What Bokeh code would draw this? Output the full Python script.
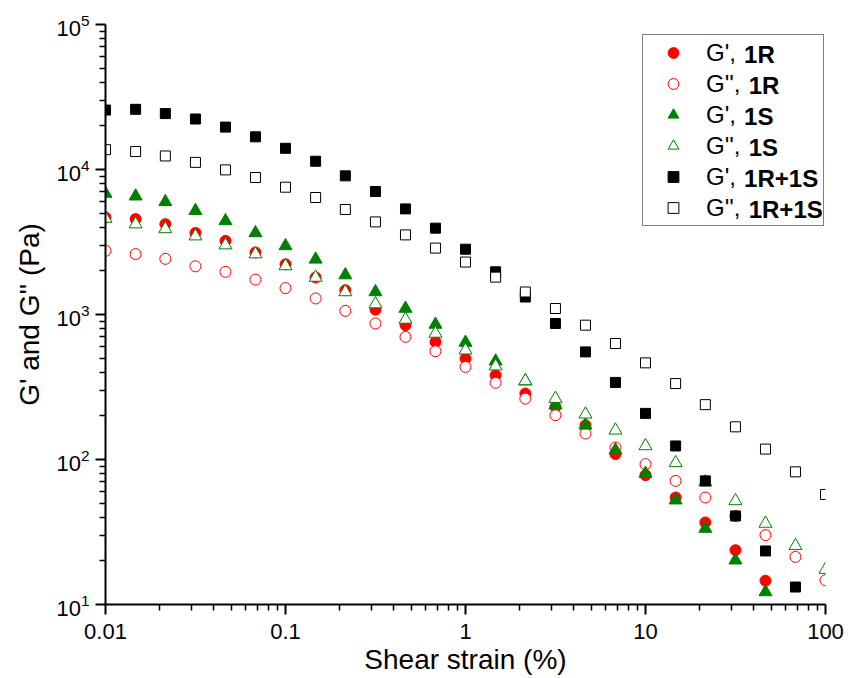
from bokeh.plotting import figure
from bokeh.models import (Range1d, Legend, LegendItem, Label, FixedTicker,
                          CustomJSTickFormatter)
from bokeh.embed import file_html
from bokeh.resources import INLINE

# ---- data ----
strain = [0.01, 0.0147, 0.0215, 0.0316, 0.0464, 0.0681, 0.1, 0.147, 0.215,
          0.316, 0.464, 0.681, 1.0, 1.47, 2.15, 3.16, 4.64, 6.81, 10.0, 14.7,
          21.5, 31.6, 46.4, 68.1, 100.0]

g1_1R = [4670, 4550, 4200, 3650, 3220, 2680, 2220, 1800, 1470, 1080, 844,
         647, 497, 381, 285, 231, 172, 109, 78, 54.7, 36.8, 23.7, 14.6]
g2_1R = [2750, 2610, 2420, 2150, 1970, 1740, 1520, 1290, 1060, 867, 701,
         558, 435, 338, 263, 202, 151, 121, 92.9, 71.2, 54.7, 40.8, 30.1,
         21.3, 14.7]
g1_1S = [6830, 6540, 5980, 5190, 4420, 3650, 2970, 2400, 1870, 1430, 1100,
         853, 641, 476, 347, 237, 172, 116, 80, 52.4, 33.4, 20.2, 12.2]
g2_1S = [4590, 4200, 3890, 3470, 3010, 2610, 2160, 1800, 1430, 1180, 924,
         740, 567, 440, 348, 263, 205, 159, 124, 94.8, 69.7, 51.8, 36.2,
         25.4, 17.4]
g1_RS = [25700, 26000, 24300, 22300, 19600, 16800, 14000, 11400, 9040,
         7050, 5350, 3940, 2820, 1970, 1320, 867, 552, 340, 208, 124, 71.2,
         40.8, 23.4, 13.2]
g2_RS = [13700, 13300, 12400, 11200, 9940, 8810, 7550, 6410, 5300, 4350,
         3540, 2870, 2300, 1810, 1430, 1100, 844, 631, 464, 334, 239, 168,
         118, 82.2, 57.4]

x_ticks = [0.01, 0.1, 1, 10, 100]
y_ticks = [10, 100, 1000, 10000, 100000]

legend_main = ["G',", "G'',", "G',", "G'',", "G',", "G'',"]
legend_bold = ["1R", "1R", "1S", "1S", "1R+1S", "1R+1S"]

FONT = "Liberation Sans"

p = figure(width=849, height=678, x_axis_type="log", y_axis_type="log",
           x_range=Range1d(0.01, 100), y_range=Range1d(10, 100000),
           output_backend="svg", toolbar_location=None,
           min_border_left=105, min_border_right=24, min_border_top=24,
           min_border_bottom=74)
p.outline_line_color = None
p.grid.visible = False
p.background_fill_color = "white"
p.border_fill_color = "white"

def minor(ticks):
    out = []
    for t in ticks[:-1]:
        out += [t * m for m in range(2, 10)]
    return out

p.xaxis.ticker = FixedTicker(ticks=x_ticks, minor_ticks=minor(x_ticks))
p.yaxis.ticker = FixedTicker(ticks=y_ticks, minor_ticks=minor(y_ticks))
p.xaxis.formatter = CustomJSTickFormatter(
    code="return String(parseFloat(tick.toPrecision(6)));")

for ax in (p.xaxis[0], p.yaxis[0]):
    ax.axis_line_width = 2
    ax.axis_line_color = "black"
    ax.major_tick_line_width = 2
    ax.minor_tick_line_width = 1.5
    ax.major_tick_out = 10
    ax.major_tick_in = 0
    ax.minor_tick_out = 6
    ax.minor_tick_in = 0
    ax.major_label_text_font = FONT
    ax.major_label_text_font_size = "22px"
    ax.major_label_text_color = "black"
    ax.axis_label_text_font = FONT
    ax.axis_label_text_font_size = "28px"
    ax.axis_label_text_font_style = "normal"
    ax.axis_label_text_color = "black"

p.xaxis.axis_label = "Shear strain (%)"
p.yaxis.axis_label = "G' and G'' (Pa)"
p.xaxis.major_label_standoff = 9
p.xaxis.axis_label_standoff = 2
p.yaxis.major_label_standoff = 6
p.yaxis.axis_label_standoff = 8

r1 = p.scatter(strain[:len(g1_1R)], g1_1R, marker="circle", size=11,
               fill_color="red", line_color="red")
r2 = p.scatter(strain[:len(g2_1R)], g2_1R, marker="circle", size=11,
               fill_color="white", line_color="red", line_width=1)
r3 = p.scatter(strain[:len(g1_1S)], g1_1S, marker="triangle", size=13,
               fill_color="green", line_color="green")
r4 = p.scatter(strain[:len(g2_1S)], g2_1S, marker="triangle", size=13,
               fill_color="white", line_color="green", line_width=1)
r5 = p.scatter(strain[:len(g1_RS)], g1_RS, marker="square", size=10,
               fill_color="black", line_color="black")
r6 = p.scatter(strain[:len(g2_RS)], g2_RS, marker="square", size=10,
               fill_color="white", line_color="black", line_width=1)
rends = [r1, r2, r3, r4, r5, r6]

PAD = 2
GW = 56
STAND = 5
ROWH = 31
LX = 537
LY = 378
legend = Legend(items=[LegendItem(label=t, renderers=[r])
                       for t, r in zip(legend_main, rends)],
                location=(LX, LY))
legend.padding = PAD
legend.spacing = 0
legend.margin = 0
legend.label_height = ROWH
legend.glyph_height = 27
legend.glyph_width = GW
legend.label_standoff = STAND
legend.label_width = 115
legend.label_text_font = FONT
legend.label_text_font_size = "24px"
legend.label_text_color = "black"
legend.border_line_color = "black"
legend.border_line_width = 1
legend.background_fill_alpha = 0
p.add_layout(legend)

# bold part of each legend entry
text_x = LX + PAD + GW + STAND
top_y = LY + 2 * PAD + 6 * ROWH - PAD
for i, (m, b) in enumerate(zip(legend_main, legend_bold)):
    w = (0.778 + 0.191 * m.count("'") + 0.278 + 0.278) * 24 + 2
    lab = Label(x=text_x + w, y=top_y - ROWH * i - ROWH / 2,
                x_units="screen", y_units="screen", text=b,
                text_font=FONT, text_font_size="24px",
                text_font_style="bold", text_baseline="middle",
                text_color="black")
    p.add_layout(lab)

open("out.html", "w").write(file_html(p, INLINE))
